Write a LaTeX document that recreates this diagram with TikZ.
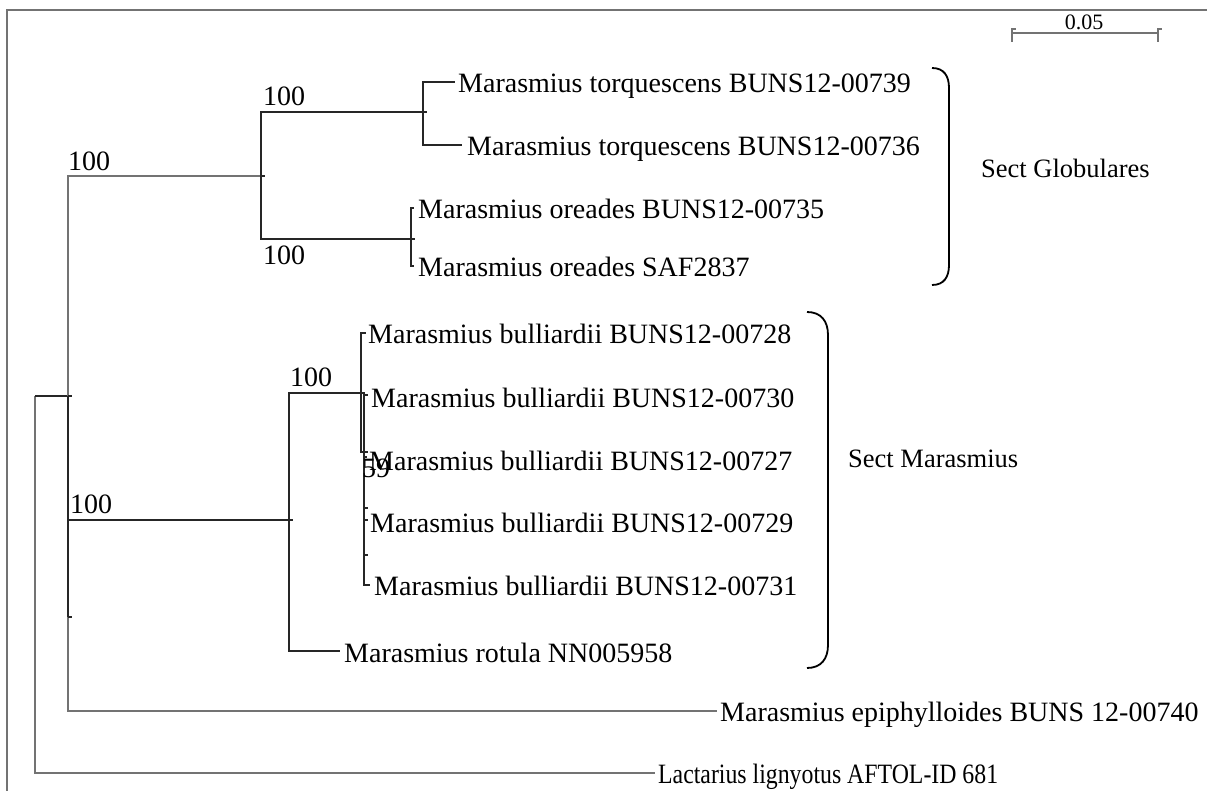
\documentclass[tikz,border=0pt]{standalone}
\usepackage{fontspec}
\setmainfont{Liberation Serif}
\begin{document}
\begin{tikzpicture}[x=1pt,y=-1pt,
  branch/.style={draw=black!85,line width=1.1pt},
  grayline/.style={draw=black!55,line width=1.2pt},
  frameline/.style={draw=black!55,line width=1.6pt},
  brace/.style={draw=black,line width=1.8pt},
  taxon/.style={anchor=base west,inner sep=0pt,font=\fontsize{28}{30}\selectfont},
  boot/.style={anchor=base west,inner sep=0pt,font=\fontsize{28}{30}\selectfont},
  sect/.style={anchor=base west,inner sep=0pt,font=\fontsize{26.5}{28}\selectfont},
  scalelbl/.style={anchor=base,inner sep=0pt,font=\fontsize{22}{24}\selectfont}]
\useasboundingbox (0,0) rectangle (1207,791);

% outer frame (left and top edges)
\coordinate (fbl) at (7,791);
\coordinate (ftl) at (7,10);
\coordinate (ftr) at (1207,10);
\draw[frameline] (fbl) -- (ftl) -- (ftr);

% internal nodes
\coordinate (root) at (35,396);
\coordinate (n1)   at (68,396);
\coordinate (n1m)  at (68,520);
\coordinate (glob) at (261,176);
\coordinate (tq)   at (423,112);
\coordinate (ore)  at (411,239);
\coordinate (mar)  at (289,520);
\coordinate (bu)   at (361,393);
\coordinate (n59)  at (364,452);
\coordinate (hid)  at (68,617);

% tips
\coordinate (tT1) at (455,82);
\coordinate (tT2) at (462,145);
\coordinate (tO1) at (414,208);
\coordinate (tO2) at (414,266);
\coordinate (tB1) at (366,333);
\coordinate (tB2) at (368,395);
\coordinate (tB3) at (367,457);
\coordinate (tB4) at (368,520);
\coordinate (tB5) at (370,585);
\coordinate (tR)  at (340,651);
\coordinate (tE)  at (717,711);
\coordinate (tL)  at (655,773);

% branches
\draw[branch] (root) -- (n1);
\draw[grayline] (root) |- (tL);
\draw[grayline] (n1) |- (glob);
\draw[grayline] (n1) |- (tE);
\draw[branch] (n1) |- (mar);
\draw[branch] (n1m) -- (hid);
\draw[branch] (glob) |- (tq);
\draw[branch] (glob) |- (ore);
\draw[branch] (tq) |- (tT1);
\draw[branch] (tq) |- (tT2);
\draw[branch] (ore) |- (tO1);
\draw[branch] (ore) |- (tO2);
\draw[branch] (mar) |- (bu);
\draw[branch] (mar) |- (tR);
\draw[branch] (bu) |- (tB1);
\draw[branch] (bu) |- (n59);
\draw[branch] (n59) |- (tB2);
\draw[branch] (n59) |- (tB3);
\draw[branch] (n59) |- (tB4);
\draw[branch] (n59) |- (tB5);

% node markers
\foreach \p in {root,n1,glob,tq,ore,mar,bu,n59,hid}
  \draw[branch] (\p) -- ++(4,0);
\coordinate (k1) at (364,508);
\coordinate (k2) at (364,555);
\draw[branch] (k1) -- ++(4,0);
\draw[branch] (k2) -- ++(4,0);

% bootstrap values
\node[boot] (b1) at (68,171) {100};
\node[boot] (b2) at (263,106) {100};
\node[boot] (b3) at (263,265) {100};
\node[boot] (b4) at (70,513) {100};
\node[boot] (b5) at (290,386) {100};
\node[boot] (b6) at (362,477) {59};

% taxa
\node[taxon] (lT1) at (458,93)  {Marasmius torquescens BUNS12-00739};
\node[taxon] (lT2) at (467,156) {Marasmius torquescens BUNS12-00736};
\node[taxon] (lO1) at (418,219) {Marasmius oreades BUNS12-00735};
\node[taxon] (lO2) at (418,277) {Marasmius oreades SAF2837};
\node[taxon] (lB1) at (368,344) {Marasmius bulliardii BUNS12-00728};
\node[taxon] (lB2) at (371,407) {Marasmius bulliardii BUNS12-00730};
\node[taxon] (lB3) at (369,470) {Marasmius bulliardii BUNS12-00727};
\node[taxon] (lB4) at (370,532) {Marasmius bulliardii BUNS12-00729};
\node[taxon] (lB5) at (374,595) {Marasmius bulliardii BUNS12-00731};
\node[taxon] (lR)  at (344,662) {Marasmius rotula NN005958};
\node[taxon] (lE)  at (720,721) {Marasmius epiphylloides BUNS 12-00740};
\node[taxon,xscale=0.85] (lL) at (658,783) {Lactarius lignyotus AFTOL-ID 681};

% section braces
\coordinate (g1) at (932,68);
\coordinate (g2) at (949,88);
\coordinate (g3) at (949,265);
\coordinate (g4) at (932,285);
\draw[brace] (g1) .. controls (944,68) and (949,76) .. (g2) -- (g3)
  .. controls (949,277) and (944,285) .. (g4);
\node[sect] (sG) at (981,178) {Sect Globulares};

\coordinate (m1) at (807,312);
\coordinate (m2) at (828,335);
\coordinate (m3) at (828,645);
\coordinate (m4) at (807,668);
\draw[brace] (m1) .. controls (821,312) and (828,321) .. (m2) -- (m3)
  .. controls (828,659) and (821,668) .. (m4);
\node[sect] (sM) at (848,467) {Sect Marasmius};

% scale bar
\coordinate (sb1) at (1012,33);
\coordinate (sb2) at (1158,33);
\draw[grayline] (sb1) -- (sb2);
\draw[grayline] (1012,42) -- (1012,29) -- (1016,29);
\draw[grayline] (1158,42) -- (1158,29) -- (1162,29);
\node[scalelbl] (slbl) at (1084,30) {0.05};
\end{tikzpicture}
\end{document}
